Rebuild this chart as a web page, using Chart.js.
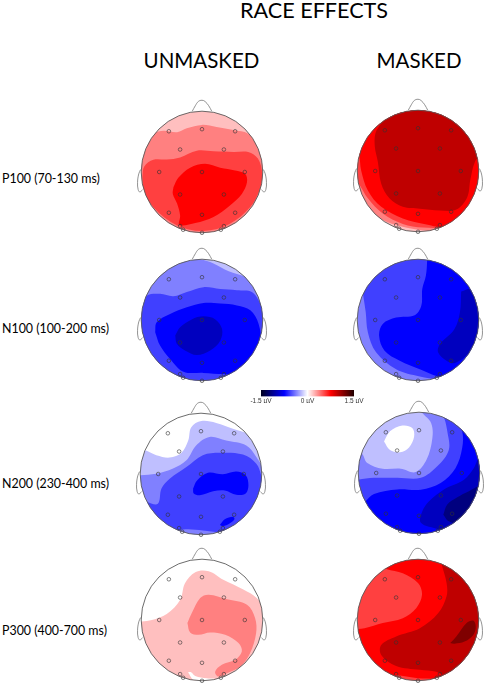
<!DOCTYPE html>
<html>
<head>
<meta charset="utf-8">
<title>Race effects</title>
<script src="https://cdn.jsdelivr.net/npm/chart.js@4"></script>
<style>
  html, body { margin: 0; padding: 0; background: #fff; overflow: hidden; }
  body { position: relative; width: 485px; height: 685px; font-family: Lato, sans-serif; color: #000; }
  canvas { position: absolute; }
  .title { position: absolute; transform: translate(-50%, -50%); font-size: 20.5px; white-space: nowrap; }
  .main { font-size: 21.6px; }
  .row { position: absolute; left: 2px; transform: translateY(-50%); font-size: 12.4px; white-space: nowrap; }
</style>
</head>
<body>
<script>
// values are in percent of the head radius, y up, levels in µV
const mainTitle = "RACE EFFECTS";
const columnLabels = ["UNMASKED", "MASKED"];
const rowLabels = ["P100 (70-130 ms)", "N100 (100-200 ms)", "N200 (230-400 ms)", "P300 (400-700 ms)"];
const colorbarTicks = [-1.5, 0, 1.5];

const electrodeX = [-54.5, 0, 54.5, -36, 36, -70.4, 0, 70.4, -36, 36, -54.5, 0, 54.5, -36, 36, -31, 31, 0];
const electrodeY = [67, 70.4, 67, 37, 37, 0, 0, 0, -37, -37, -67, -70.4, -67, -89, -89, -95, -95, -100];
const noseOutline = [[-16, 100], [-11, 109], [-6, 116], [0, 118], [5, 116], [11, 109], [16, 100]];
const leftEarOutline = [[-101, 4], [-104, -3], [-106, -17], [-105, -29], [-102, -33], [-98, -29]];
const rightEarOutline = [[101, 4], [104, -3], [106, -17], [105, -29], [102, -33], [98, -29]];

// P100 unmasked
const p100UnmaskedBase = 0.25;
const p100UnmaskedLevels = [0.5, 0.75, 1];
const p100UnmaskedA = [[-100, 50], [-80, 64], [-63, 68], [-41, 65.5], [-25, 72], [0, 77.5], [24, 74], [52, 69], [76, 63], [100, 40], [115, 0], [115, -115], [-115, -115], [-115, 20], [-100, 50]];
const p100UnmaskedB = [[-98, -8], [-95, 9], [-80, 20], [-58, 20.5], [-36, 24], [-8.5, 35], [19, 34], [52, 33], [76, 33], [92, 22], [99, -3], [94.5, -30], [79, -58], [46, -85], [2.5, -97], [-41, -88], [-80, -58], [-96, -30], [-98, -8]];
const p100UnmaskedC = [[-47, -25], [-39, -9.6], [-19.5, 7], [5, 13.4], [30, 7], [54.5, 2.5], [71, -3], [74, -17], [65.5, -36], [46, -55], [19, -74], [-11, -84], [-37, -87], [-36, -71.5], [-41, -52], [-48, -36], [-47, -25]];

// P100 masked
const p100MaskedBase = 0.25;
const p100MaskedLevels = [0.5, 0.75, 1, 1.25];
const p100MaskedA = [[-110, -40], [-110, 120], [120, 120], [120, -50], [70, -80], [52, -89], [30, -98], [0, -96.5], [-36, -89], [-63, -78], [-80, -65], [-110, -40]];
const p100MaskedB = [[-110, -5], [-110, 120], [120, 120], [120, -50], [75, -80], [47, -92], [8, -93], [-25, -87], [-58, -70], [-82.5, -45], [-96, -23], [-110, -5]];
const p100MaskedC = [[-110, 60], [-110, 120], [120, 120], [120, -50], [70, -78], [58, -84], [41, -92], [14, -88], [-25, -78], [-60.5, -59], [-82.5, -32], [-93.5, 1], [-97, 26], [-110, 60]];
const p100MaskedD = [[-47, 117], [-47, 95], [-60.5, 78], [-70, 62], [-71, 40], [-66, 15], [-60.5, -21], [-47, -45], [-25, -59], [3, -62], [36, -65], [63, -63.5], [81, -43], [86, -15], [93.5, 15], [107, 34], [107, 111], [-47, 117]];

// N100 unmasked
const n100UnmaskedBase = -0.25;
const n100UnmaskedLevels = [-0.5, -0.75, -1, -1.25];
const n100UnmaskedA = [[-115, 110], [-60, 110], [-6, 101], [19, 93], [44, 80], [71, 71], [96, 57], [115, 50], [115, -115], [-115, -115], [-115, 110]];
const n100UnmaskedB = [[-115, 10], [-99, 24], [-91, 40], [-69, 43], [-47, 39], [-25, 46], [2.5, 54], [30, 51], [57.5, 49], [82, 46], [96, 27], [107, 2], [115, -115], [-115, -115], [-115, 10]];
const n100UnmaskedC = [[-77, -20], [-74.5, -3.5], [-52.5, 10], [-25, 21], [2.5, 28], [30, 27], [57.5, 24], [79.5, 16], [93, -6], [96, -37], [82, -64], [55, -89], [35.5, -89], [2.5, -87], [-30.5, -85], [-52.5, -64], [-69, -42], [-77, -20]];
const n100UnmaskedD = [[-44, -25.5], [-36, -12], [-17, 1], [2.5, 6], [22, 1], [33, -15], [30, -34], [13.5, -50], [-8.5, -57.5], [-28, -50], [-41.5, -39], [-44, -25.5]];

// N100 masked
const n100MaskedBase = -0.5;
const n100MaskedLevels = [-0.75, -1, -1.25];
const n100MaskedA = [[-95, 120], [-95, 75], [-91, 46], [-86, 13], [-82.5, -20], [-69, -53], [-36, -81], [3, -93], [33, -98.5], [60, -105], [120, -100], [120, 120], [-95, 120]];
const n100MaskedB = [[15, 115], [15, 98], [13, 73], [7, 51], [5.5, 24], [-5.5, 8], [-36, 4], [-58, -6.5], [-64, -26], [-55, -50.5], [-30, -67], [3, -81], [30, -92], [47, -96], [70, -110], [120, -110], [120, 115], [15, 115]];
const n100MaskedC = [[71, 47], [69, 13], [60, -15], [36, -40], [33, -53], [47, -67], [60, -71], [82, -56], [102, -29], [107, 13], [91, 51], [71, 47]];

// N200 unmasked
const n200UnmaskedBase = 0;
const n200UnmaskedLevels = [-0.25, -0.5, -0.75, -1, -1];
const n200UnmaskedA = [[-115, 30], [-95, 39], [-73.5, 31], [-51.5, 27], [-32, 35], [-21, 55], [-16, 77], [0.5, 87], [25, 84], [52.5, 74.5], [77, 66], [96, 53], [115, 30], [115, -115], [-115, -115], [-115, 30]];
const n200UnmaskedB = [[-115, -5], [-100, -2], [-73.5, 0.5], [-46, 9], [-24, 22.5], [-8, 47], [14, 61], [41.5, 55], [74.5, 47], [91, 28], [107, -2], [115, -115], [-115, -115], [-115, -5]];
const n200UnmaskedC = [[-90, -46], [-71, -49], [-65, -24], [-51.5, -8], [-24, 11.5], [3, 31], [31, 35], [69, 32], [91, 17], [99, -2], [107, -35], [60, -95], [31, -96], [3, -93], [-21, -91], [-40, -92], [-70, -85], [-110, -60], [-90, -46]];
const n200UnmaskedD = [[-13, -24], [-6.5, -10.5], [11.5, 2], [36, -0.5], [58, 4], [73.5, -2], [78, -18.5], [73.5, -32], [58, -34], [39, -27], [20, -28.5], [-2, -35], [-12, -32], [-13, -24]];
const n200UnmaskedE = [[31, -84], [39, -74.5], [52.5, -70.5], [55, -74.5], [47, -81.5], [36, -86], [31, -84]];

// N200 masked
const n200MaskedBase = -0.25;
const n200MaskedLevels = [-0.5, -0.75, -1, -1.25, -1.5, 0];
const n200MaskedA = [[-115, 46], [-107, 46.5], [-93, 31], [-85, 16.5], [-60, 7], [-30, 7], [-5.5, 1.5], [12.5, 22], [22, 57.5], [20, 82], [5.5, 98.5], [-3, 110], [120, 115], [120, -115], [-115, -115], [-115, 46]];
const n200MaskedB = [[-115, -11], [-101, -11], [-74, -8], [-35.5, -8], [3, -8], [30, 11], [49, 38], [46.5, 68.5], [42, 89], [35.6, 101], [35, 115], [120, 115], [120, -115], [-115, -115], [-115, -11]];
const n200MaskedC = [[-110, -70], [-89, -48], [-74, -34.5], [-35.6, -27], [3, -27.4], [35.6, -16.4], [60, 8], [71, 41], [71, 68.5], [60, 85], [60, 115], [120, 115], [120, -115], [-110, -115], [-110, -70]];
const n200MaskedD = [[33, -93], [3, -82], [5.5, -63], [16.5, -46.5], [41, -27], [74, -11], [90, 8], [101, 27], [120, 20], [120, -70], [60, -110], [33, -93]];
const n200MaskedE = [[40, -68.5], [46.5, -52], [63, -40], [82, -30], [101, -22], [115, -40], [90, -63], [66, -82], [49, -79.5], [40, -68.5]];
const n200MaskedF = [[-57.5, 52], [-47.7, 68.5], [-27.4, 78], [-11, 74], [-8, 60], [-16.4, 42], [-31, 34], [-47.7, 38], [-57.5, 52]];

// P300 unmasked
const p300UnmaskedBase = 0;
const p300UnmaskedLevels = [0.25, 0.5, 0];
const p300UnmaskedA = [[-115, -3], [-99, -2.5], [-82.5, 0], [-58, 10], [-36, 33], [-28, 60.5], [-11, 78.6], [11, 80], [35, 66], [68, 50], [90, 36], [106.5, 11], [115, -115], [-115, -115], [-115, -3]];
const p300UnmaskedB = [[-24, -5], [-17, 11], [-3, 36], [11, 41.4], [41, 34], [74, 25], [87.4, 3], [89, -21.6], [79, -54.5], [63, -76.5], [41, -87.4], [27, -93], [21.6, -85], [32.6, -73.7], [54.5, -65.5], [65.5, -51.8], [60, -38], [38, -24.4], [13.4, -20.5], [-5.8, -24.4], [-19.5, -20.5], [-24, -5]];
const p300UnmaskedC = [[-23, -86], [-18, -86], [-11, -92], [8, -96], [22, -97], [2.5, -101], [-14, -98.6], [-23, -86]];

// P300 masked
const p300MaskedBase = 0.75;
const p300MaskedLevels = [1, 1.25, 1.5];
const p300MaskedA = [[-115, -15], [-99, -15], [-88, -13.5], [-58, -5], [-25, 3], [-3, 19.5], [6.6, 41.5], [0, 61], [-25, 77], [-52, 84], [-63, 91], [-50, 120], [120, 120], [120, -115], [60, -108], [30, -98], [0, -96], [-33, -91], [-60, -90], [-115, -60], [-115, -15]];
const p300MaskedB = [[38, 110], [38.5, 94], [47, 61], [47, 39], [33, 11], [3, -13.5], [-36, -27], [-60.5, -41], [-60.5, -57.5], [-36, -75.6], [3, -82], [30, -85], [44, -90.5], [120, -70], [120, 120], [38, 110]];
const p300MaskedC = [[53, -38], [63, -27], [80, -5], [91, -1], [95, -11], [91, -24.5], [76.5, -35.5], [60, -39], [53, -38]];

const headCenters = [
  [202, 171.5], [418.3, 170.8],
  [202, 319.5], [418.3, 319.5],
  [201.3, 473.7], [418.5, 473.3],
  [202, 620], [418.3, 620.2],
];
const headMaps = [
  [p100UnmaskedBase, p100UnmaskedLevels, [p100UnmaskedA, p100UnmaskedB, p100UnmaskedC]],
  [p100MaskedBase, p100MaskedLevels, [p100MaskedA, p100MaskedB, p100MaskedC, p100MaskedD]],
  [n100UnmaskedBase, n100UnmaskedLevels, [n100UnmaskedA, n100UnmaskedB, n100UnmaskedC, n100UnmaskedD]],
  [n100MaskedBase, n100MaskedLevels, [n100MaskedA, n100MaskedB, n100MaskedC]],
  [n200UnmaskedBase, n200UnmaskedLevels, [n200UnmaskedA, n200UnmaskedB, n200UnmaskedC, n200UnmaskedD, n200UnmaskedE]],
  [n200MaskedBase, n200MaskedLevels, [n200MaskedA, n200MaskedB, n200MaskedC, n200MaskedD, n200MaskedE, n200MaskedF]],
  [p300UnmaskedBase, p300UnmaskedLevels, [p300UnmaskedA, p300UnmaskedB, p300UnmaskedC]],
  [p300MaskedBase, p300MaskedLevels, [p300MaskedA, p300MaskedB, p300MaskedC]],
];

function levelColor(level) {
  const n = Math.abs(level) / 0.25;
  const soft = n <= 4 ? Math.round(255 * (1 - n / 4)) : 0;
  const full = n <= 4 ? 255 : 255 - Math.round((n - 4) * 64);
  return level >= 0 ? `rgb(${full},${soft},${soft})` : `rgb(${soft},${soft},${full})`;
}

function toPoints(pairs) {
  return pairs.map(function (p) { return { x: p[0], y: p[1] }; });
}

// clips the contour fills to the head circle, then draws the circle itself
const headClip = {
  id: "headClip",
  beforeDatasetsDraw(chart, args, opts) {
    const { ctx, scales } = chart;
    const r = scales.x.getPixelForValue(100) - scales.x.getPixelForValue(0);
    ctx.save();
    ctx.beginPath();
    ctx.arc(scales.x.getPixelForValue(0), scales.y.getPixelForValue(0), r, 0, Math.PI * 2);
    ctx.clip();
    ctx.fillStyle = opts.base;
    ctx.fillRect(0, 0, chart.width, chart.height);
  },
  afterDatasetDraw(chart, args) {
    if (!chart.data.datasets[args.index].lastContour) return;
    const { ctx, scales } = chart;
    const r = scales.x.getPixelForValue(100) - scales.x.getPixelForValue(0);
    ctx.restore();
    ctx.beginPath();
    ctx.arc(scales.x.getPixelForValue(0), scales.y.getPixelForValue(0), r, 0, Math.PI * 2);
    ctx.strokeStyle = "#5a5a5a";
    ctx.lineWidth = 0.9;
    ctx.stroke();
  },
};

function outline(pairs) {
  return {
    data: toPoints(pairs),
    showLine: true,
    fill: false,
    tension: 0.4,
    borderColor: "#777",
    borderWidth: 0.8,
    pointRadius: 0,
    order: 0,
  };
}

function drawHead(center, map) {
  const canvas = document.createElement("canvas");
  canvas.width = 152;
  canvas.height = 152;
  canvas.style.left = center[0] - 76 + "px";
  canvas.style.top = center[1] - 76 + "px";
  document.body.appendChild(canvas);

  const levels = map[1];
  const contours = map[2];
  const datasets = contours.map(function (pairs, i) {
    return {
      data: toPoints(pairs),
      showLine: true,
      fill: "shape",
      backgroundColor: levelColor(levels[i]),
      borderWidth: 0,
      pointRadius: 0,
      tension: 0.35,
      order: contours.length - i,
      lastContour: i === contours.length - 1,
    };
  });
  datasets.push(outline(noseOutline), outline(leftEarOutline), outline(rightEarOutline));
  datasets.push({
    data: electrodeX.map(function (x, i) { return { x: x, y: electrodeY[i] }; }),
    pointRadius: 1.8,
    pointBackgroundColor: "rgba(0,0,0,0)",
    pointBorderColor: "rgba(50,50,50,0.75)",
    pointBorderWidth: 0.8,
    order: 0,
  });

  new Chart(canvas, {
    type: "scatter",
    data: { datasets: datasets },
    options: {
      responsive: false,
      animation: false,
      events: [],
      layout: { padding: 0, autoPadding: false },
      scales: {
        x: { type: "linear", display: false, min: -125, max: 125 },
        y: { type: "linear", display: false, min: -125, max: 125 },
      },
      plugins: {
        legend: { display: false },
        tooltip: { enabled: false },
        headClip: { base: levelColor(map[0]) },
      },
    },
    plugins: [headClip],
  });
}

function addText(cls, text, x, y) {
  const el = document.createElement("div");
  el.className = cls;
  el.textContent = text;
  if (x !== null) el.style.left = x + "px";
  el.style.top = y + "px";
  document.body.appendChild(el);
}

function drawColorbar() {
  const canvas = document.createElement("canvas");
  canvas.width = 134;
  canvas.height = 14;
  canvas.style.left = "241px";
  canvas.style.top = "389px";
  document.body.appendChild(canvas);

  new Chart(canvas, {
    type: "bar",
    data: {
      labels: ["scale"],
      datasets: [{
        data: [[colorbarTicks[0], colorbarTicks[2]]],
        backgroundColor: function (c) {
          const area = c.chart.chartArea;
          if (!area) return "#000";
          const g = c.chart.ctx.createLinearGradient(area.left, 0, area.right, 0);
          g.addColorStop(0, "#000020");
          g.addColorStop(0.25, "#0000ff");
          g.addColorStop(0.5, "#ffffff");
          g.addColorStop(0.75, "#ff0000");
          g.addColorStop(1, "#200000");
          return g;
        },
        barPercentage: 1,
        categoryPercentage: 1,
      }],
    },
    options: {
      indexAxis: "y",
      responsive: false,
      animation: false,
      events: [],
      layout: { padding: { left: 20, right: 21, top: 1, bottom: 0 }, autoPadding: false },
      scales: {
        x: {
          type: "linear",
          min: colorbarTicks[0],
          max: colorbarTicks[2],
          grid: { display: false, drawTicks: false },
          border: { display: false },
          afterBuildTicks: function (axis) {
            axis.ticks = colorbarTicks.map(function (v) { return { value: v }; });
          },
          ticks: {
            autoSkip: false,
            maxRotation: 0,
            padding: 1,
            color: "#333",
            font: { family: "Liberation Sans", size: 6.5 },
            callback: function (v) { return v + " µV"; },
          },
        },
        y: { display: false },
      },
      plugins: { legend: { display: false }, tooltip: { enabled: false } },
    },
  });
}

headCenters.forEach(function (c, i) { drawHead(c, headMaps[i]); });
drawColorbar();

addText("title main", mainTitle, 314, 10);
addText("title", columnLabels[0], 201.5, 60);
addText("title", columnLabels[1], 419, 60);
addText("row", rowLabels[0], null, 178);
addText("row", rowLabels[1], null, 328);
addText("row", rowLabels[2], null, 483);
addText("row", rowLabels[3], null, 630);
</script>
</body>
</html>
